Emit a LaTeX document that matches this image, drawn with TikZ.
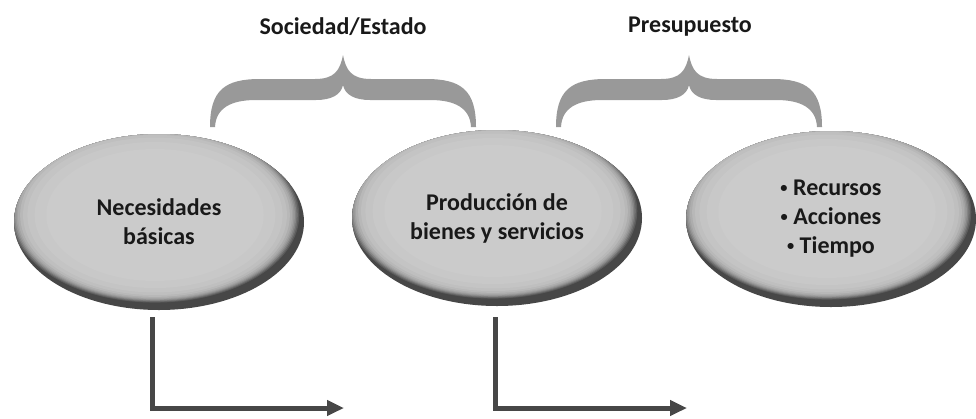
\documentclass[tikz,border=0pt]{standalone}
\usepackage{fontspec}
\setmainfont{Carlito}
\usetikzlibrary{arrows.meta,shapes.geometric}
\newcommand\smbul{\raisebox{0.13em}{\scalebox{0.6}{•}}}
\tikzset{
  ellbox/.style={ellipse, fill=black!72, minimum width=290pt, minimum height=176pt,
    inner sep=0pt, align=center, text=black!90,
    font=\bfseries\fontsize{24}{29}\selectfont,
    path picture={
      \foreach \s/\c in {0.995/64,0.985/56,0.975/48,0.965/41,0.955/36,0.945/32,
                         0.93/28,0.91/25,0.88/23,0.83/21.5,0.75/20.5}{
        \fill[black!\c] ([shift={(-4,-7)}]path picture bounding box.center)
          ellipse [x radius={145pt*\s}, y radius={88pt*\s}];
      }
    }},
  toplabel/.style={text=black!90, font=\bfseries\fontsize{24}{29}\selectfont},
  flowarrow/.style={draw=black!72, line width=5pt, line join=miter,
    -{Triangle[length=17pt,width=15pt]}},
  bracefill/.style={fill=black!40, draw=none},
  pics/curlybrace/.style={code={
    \path[bracefill] (0,0) .. controls (3,15) and (8,24) .. (28,24) -- (83,24)
      .. controls (118,24) and (133,35) .. (133,72) -- (128,72)
      .. controls (127,53) and (112,45) .. (87,45) -- (27,45)
      .. controls (12,45) and (2,40) .. (0,30)
      .. controls (-2,40) and (-12,45) .. (-27,45) -- (-87,45)
      .. controls (-112,45) and (-127,53) .. (-128,72) -- (-133,72)
      .. controls (-133,35) and (-118,24) .. (-83,24) -- (-28,24)
      .. controls (-8,24) and (-3,15) .. (0,0) -- cycle;
  }}
}
\begin{document}
\begin{tikzpicture}[x=1pt,y=-1pt]
\useasboundingbox (0,0) rectangle (976,418);
% braces
\pic at (343,55) {curlybrace};
\pic at (689,55) {curlybrace};
% labels
\node[toplabel] (l1) at (343,27) {Sociedad/Estado};
\node[toplabel] (l2) at (690,27) {Presupuesto};
% ellipses
\node[ellbox] (e1) at (159,222) {Necesidades\\básicas};
\node[ellbox] (e2) at (497,218) {Producción de\\bienes y servicios};
\node[ellbox] (e3) at (831,219) {\smbul\ Recursos\\\smbul\ Acciones\\\smbul\ Tiempo};
% arrows
\coordinate (a1s) at (152,317);
\coordinate (a1c) at (152,408);
\coordinate (a1e) at (344,408);
\coordinate (a2s) at (495,317);
\coordinate (a2c) at (495,408);
\coordinate (a2e) at (687,408);
\draw[flowarrow] (a1s) -- (a1c) -- (a1e);
\draw[flowarrow] (a2s) -- (a2c) -- (a2e);
\end{tikzpicture}
\end{document}
